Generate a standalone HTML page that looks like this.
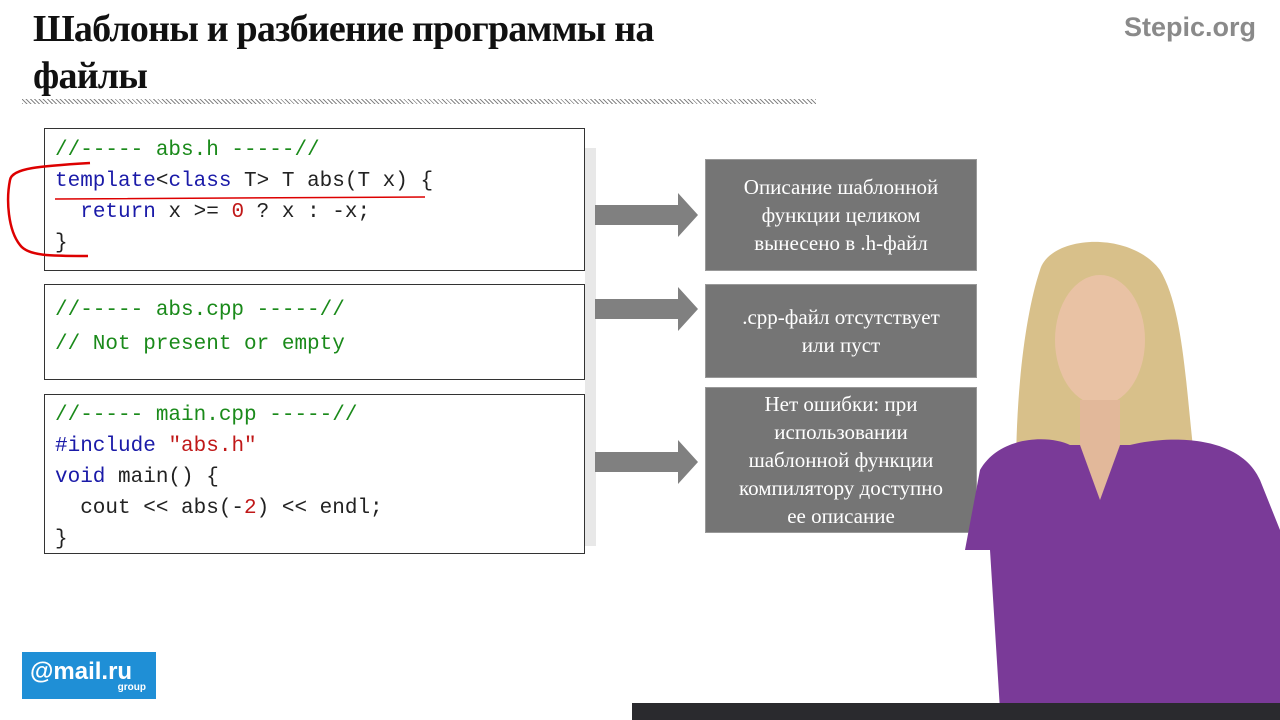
<!DOCTYPE html>
<html><head><meta charset="utf-8"><style>
body{margin:0;width:1280px;height:720px;background:#fff;position:relative;overflow:hidden;font-family:"Liberation Serif",serif}
.t{position:absolute;left:33px;top:6px;font:bold 38px/47px "Liberation Serif",serif;color:#111;letter-spacing:-0.8px}
.rule{position:absolute;left:22px;top:99px;width:794px;height:5px;background:repeating-linear-gradient(45deg,#888 0 1px,#fff 1px 3px)}
.logo{position:absolute;left:1124px;top:12px;font:bold 27px "Liberation Sans",sans-serif;color:#8a8a8a}
.box{position:absolute;left:44px;width:541px;border:1.5px solid #333;background:#fff;font:21px/31px "Liberation Mono",monospace;color:#222;padding-left:10px;box-sizing:border-box;white-space:pre}
.g{color:#1a8a1a}.b{color:#1a1aa8}.r{color:#c01818}
.shadow{position:absolute;left:585px;top:148px;width:11px;height:398px;background:#e8e8e8}
.gb{position:absolute;left:705px;width:272px;background:#757575;color:#fff;font:21px/28px "Liberation Serif",serif;text-align:center;display:flex;align-items:center;justify-content:center;border:1px solid #999;box-sizing:border-box}
</style></head><body>
<div class="t">Шаблоны и разбиение программы на<br>файлы</div>
<div class="rule"></div>
<div class="logo">Stepic.org</div>
<div class="shadow"></div>
<div class="box" style="top:128px;height:143px;padding-top:6px"><span class="g">//----- abs.h -----//</span>
<span class="b">template</span>&lt;<span class="b">class</span> T&gt; T abs(T x) {
  <span class="b">return</span> x &gt;= <span class="r">0</span> ? x : -x;
}</div>
<div class="box" style="top:284px;height:96px;padding-top:9px;line-height:34px"><span class="g">//----- abs.cpp -----//
// Not present or empty</span></div>
<div class="box" style="top:394px;height:160px;padding-top:5px"><span class="g">//----- main.cpp -----//</span>
<span class="b">#include</span> <span class="r">"abs.h"</span>
<span class="b">void</span> main() {
  cout &lt;&lt; abs(-<span class="r">2</span>) &lt;&lt; endl;
}</div>
<svg style="position:absolute;left:0;top:0" width="720" height="720">
<path d="M90 163 C40 166 12 168 10 180 C6 200 8 230 20 245 C28 256 50 256 88 256" stroke="#d00" stroke-width="2.5" fill="none"/>
<path d="M55 199 C200 198 350 197 425 197" stroke="#d00" stroke-width="1.5" fill="none"/>
<g fill="#808080">
<path d="M595 205h83v-12l20 22-20 22v-12h-83z"/>
<path d="M595 299h83v-12l20 22-20 22v-12h-83z"/>
<path d="M595 452h83v-12l20 22-20 22v-12h-83z"/>
</g></svg>
<div class="gb" style="top:159px;height:112px">Описание шаблонной<br>функции целиком<br>вынесено в .h-файл</div>
<div class="gb" style="top:284px;height:94px">.cpp-файл отсутствует<br>или пуст</div>
<div class="gb" style="top:387px;height:146px">Нет ошибки: при<br>использовании<br>шаблонной функции<br>компилятору доступно<br>ее описание</div>
<svg style="position:absolute;left:960px;top:230px" width="320" height="490">
<path d="M80 40 C90 5 170 0 200 40 C230 90 225 200 245 300 L60 330 C50 220 60 100 80 40Z" fill="#d8c08a"/>
<ellipse cx="140" cy="110" rx="45" ry="65" fill="#e9c2a4"/>
<rect x="120" y="170" width="40" height="60" fill="#e2b89a"/>
<path d="M20 240 C40 205 90 205 110 215 L170 215 C210 205 280 205 300 250 L320 300 L320 480 L40 480 L30 320 L5 320Z" fill="#7a3a98"/>
<path d="M120 215 L140 270 L160 215Z" fill="#e2b89a"/>
</svg>
<div style="position:absolute;left:632px;top:703px;width:648px;height:17px;background:#2a2a2e"></div>
<div style="position:absolute;left:22px;top:652px;width:134px;height:47px;background:#1f8fd6;color:#fff;font:bold 24px 'Liberation Sans',sans-serif;padding:6px 0 0 8px;box-sizing:border-box">@mail.ru<div style="font-size:10px;text-align:right;padding-right:10px;margin-top:-4px">group</div></div>
</body></html>
